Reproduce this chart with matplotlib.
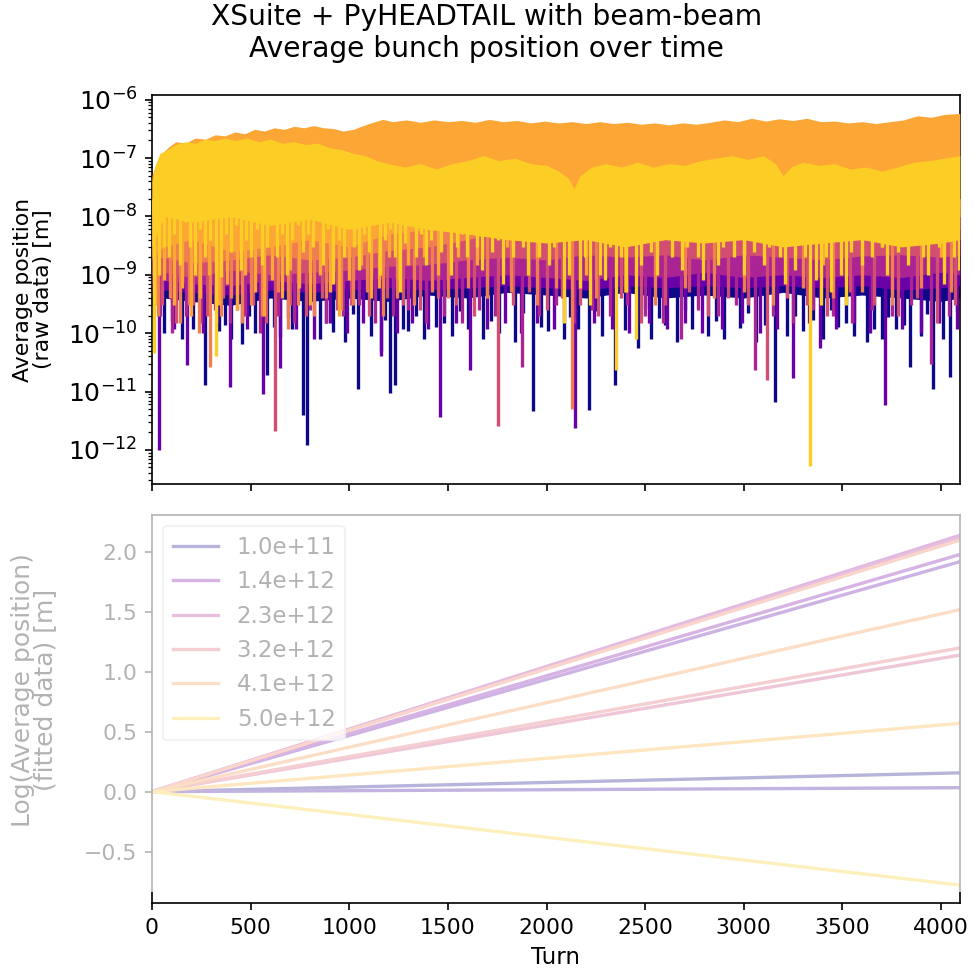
import numpy as np
import matplotlib
matplotlib.use("Agg")
import matplotlib.pyplot as plt
from matplotlib.patches import Rectangle

n_turns = 4096

# ---------------- top panel: raw average position ----------------
# coarse turn grid for the solid part ("body") of each trace
body_turn = [0, 60, 200, 400, 600, 800, 1000, 1200, 1400, 1600, 1800, 2000,
             2200, 2400, 2600, 2800, 3000, 3200, 3400, 3600, 3800, 4000, 4095]

# upper envelopes of the two dominant traces
orange_top_turn = [0, 20, 40, 80, 120, 170, 220, 270, 320, 370,
                   420, 470, 520, 570, 620, 670, 720, 770, 820, 870,
                   920, 970, 1020, 1070, 1120, 1170, 1220, 1290, 1360, 1430,
                   1500, 1570, 1640, 1710, 1780, 1850, 1920, 1990, 2060, 2130,
                   2200, 2270, 2340, 2410, 2480, 2550, 2620, 2690, 2760, 2830,
                   2900, 2970, 3040, 3110, 3180, 3250, 3320, 3390, 3460, 3530,
                   3600, 3670, 3740, 3810, 3880, 3950, 4020, 4095]
orange_top = [5e-8, 8e-8, 1.1e-7, 1.5e-7, 1.9e-7, 1.8e-7, 2.2e-7, 2.1e-7, 2.5e-7, 2.4e-7,
              2.8e-7, 2.6e-7, 3.1e-7, 2.9e-7, 3.3e-7, 3.1e-7, 3.5e-7, 3.3e-7, 3.6e-7, 3.3e-7,
              3.2e-7, 2.9e-7, 3.1e-7, 3.6e-7, 4.1e-7, 4.6e-7, 4.2e-7, 4.5e-7, 4.1e-7, 4.5e-7,
              4.2e-7, 4.4e-7, 4.1e-7, 4.6e-7, 4.2e-7, 4.4e-7, 4.0e-7, 4.3e-7, 4.0e-7, 4.2e-7,
              3.9e-7, 4.2e-7, 3.9e-7, 4.1e-7, 3.8e-7, 4.0e-7, 3.7e-7, 4.0e-7, 3.8e-7, 4.1e-7,
              4.5e-7, 4.2e-7, 4.8e-7, 4.3e-7, 4.7e-7, 4.4e-7, 4.8e-7, 4.2e-7, 4.3e-7, 4.0e-7,
              4.2e-7, 3.9e-7, 4.2e-7, 4.5e-7, 5.3e-7, 5.0e-7, 5.6e-7, 5.8e-7]

yellow_top_turn = [0, 20, 40, 80, 120, 170, 220, 270, 320, 370,
                   420, 480, 540, 600, 660, 720, 780, 840, 900, 960,
                   1020, 1080, 1140, 1200, 1280, 1360, 1440, 1520, 1600, 1680,
                   1760, 1840, 1920, 2000, 2060, 2110, 2140, 2170, 2230, 2300,
                   2380, 2460, 2540, 2620, 2700, 2780, 2860, 2940, 3020, 3100,
                   3160, 3200, 3240, 3300, 3380, 3460, 3540, 3620, 3700, 3780,
                   3860, 3940, 4020, 4095]
yellow_top = [4e-8, 8e-8, 1.2e-7, 1.4e-7, 1.7e-7, 1.9e-7, 1.8e-7, 2.1e-7, 2.0e-7, 2.2e-7,
              2.0e-7, 2.2e-7, 1.9e-7, 2.1e-7, 1.8e-7, 1.9e-7, 1.7e-7, 1.8e-7, 1.5e-7, 1.4e-7,
              1.2e-7, 1.1e-7, 9e-8, 8e-8, 7e-8, 8e-8, 6.5e-8, 8e-8, 9e-8, 1.1e-7,
              9e-8, 1.0e-7, 8e-8, 7.5e-8, 6e-8, 4.5e-8, 3e-8, 5e-8, 7e-8, 8e-8,
              7e-8, 8.5e-8, 7e-8, 8e-8, 7.5e-8, 9e-8, 1.0e-7, 1.1e-7, 9.5e-8, 1.1e-7,
              8e-8, 5e-8, 7e-8, 8.5e-8, 7.5e-8, 8e-8, 6.5e-8, 7e-8, 6e-8, 7e-8,
              8.5e-8, 9e-8, 1.0e-7, 1.1e-7]

# lower edge of the solid part of each trace (on body_turn)
navy_floor = [3e-10, 4e-10, 3.5e-10, 3e-10, 4e-10, 3.5e-10, 4e-10, 3.5e-10, 4.5e-10,
              4e-10, 5e-10, 4.5e-10, 4e-10, 5e-10, 4e-10, 4.5e-10, 4e-10, 5e-10, 4e-10,
              4.5e-10, 4e-10, 3.5e-10, 4e-10]
purple_floor = [5e-10, 5.5e-10, 5e-10, 4.5e-10, 5.5e-10, 5e-10, 5.5e-10, 6e-10, 5.5e-10,
                6e-10, 6.5e-10, 6e-10, 5.5e-10, 6.5e-10, 6e-10, 6.5e-10, 6e-10, 6.5e-10,
                6e-10, 6.5e-10, 5.5e-10, 6e-10, 6.5e-10]
magenta_floor = [7e-10, 8e-10, 7e-10, 6.5e-10, 8e-10, 7e-10, 8e-10, 9e-10, 8e-10, 9e-10,
                 1e-9, 9e-10, 8e-10, 1e-9, 9e-10, 1.1e-9, 9e-10, 1e-9, 9e-10, 1e-9,
                 9e-10, 1.1e-9, 1e-9]
pink_floor = [1e-9, 1.1e-9, 9e-10, 1.2e-9, 1e-9, 1.1e-9, 1.2e-9, 1.4e-9, 1.5e-9, 1.8e-9,
              2e-9, 1.8e-9, 2.2e-9, 2e-9, 2.2e-9, 1.8e-9, 2.2e-9, 2e-9, 1.8e-9, 2.1e-9,
              2.2e-9, 2e-9, 2.2e-9]
salmon_floor = [1.8e-9, 2e-9, 1.6e-9, 1.8e-9, 2.2e-9, 1.8e-9, 2e-9, 2.6e-9, 3e-9, 4e-9,
                6e-9, 7e-9, 6e-9, 7e-9, 6e-9, 7e-9, 6e-9, 7e-9, 6e-9, 7e-9, 6e-9, 7e-9,
                6e-9]
orange_floor = [2e-9, 3e-9, 4e-9, 2.5e-9, 3e-9, 4e-9, 3e-9, 5e-9, 6e-9, 8e-9, 1e-8,
                1.2e-8, 1e-8, 1.5e-8, 1.2e-8, 1.5e-8, 1.2e-8, 1.5e-8, 1.3e-8, 1.5e-8,
                1.2e-8, 1.5e-8, 1.5e-8]
yellow_floor = [3e-9, 1e-8, 8e-9, 1e-8, 7e-9, 9e-9, 6e-9, 8e-9, 6e-9, 5e-9, 4e-9, 3.5e-9,
                4e-9, 3e-9, 4e-9, 3.5e-9, 4e-9, 3e-9, 3.5e-9, 4e-9, 3e-9, 3.5e-9, 4e-9]

# downward spikes (turn, minimum) of each trace
navy_turn = [60, 150, 210, 269, 340, 400, 455, 520, 582, 650, 710, 766, 787, 850, 920,
             980, 1045, 1110, 1160, 1207, 1230, 1300, 1380, 1440, 1520, 1600, 1680, 1760,
             1840, 1932, 2010, 2090, 2160, 2216, 2280, 2347, 2400, 2463, 2530, 2600,
             2660, 2740, 2820, 2900, 2980, 3060, 3158, 3220, 3300, 3400, 3480, 3560,
             3624, 3700, 3770, 3843, 3900, 3960, 4010, 4045,
             100, 245, 370, 490, 620, 690, 880, 1020, 1180, 1270, 1340, 1480, 1560, 1720,
             1880, 1970, 2120, 2250, 2500, 2570, 2700, 2860, 3020, 3110, 3260, 3350, 3440,
             3520, 3660, 3730, 3810, 3930, 4080]
navy_min = [1e-10, 8e-11, 1.2e-10, 1.3e-11, 1.1e-10, 8e-11, 6.6e-11, 1e-10, 1.9e-11, 8.5e-11,
            1.2e-10, 4e-12, 1.2e-12, 8e-11, 1.05e-10, 7e-11, 1.1e-11, 9e-11, 5e-11, 9.5e-12,
            1.3e-11, 1.1e-10, 8e-11, 1.3e-10, 9e-11, 1.2e-10, 8e-11, 1e-10, 7e-11, 4.7e-12,
            1.1e-10, 8e-11, 1.2e-10, 4.8e-12, 9e-11, 1.3e-11, 1.15e-10, 5.6e-11, 8e-11, 1.4e-10,
            7e-11, 1.2e-10, 9e-11, 8e-11, 1.25e-10, 7e-11, 6.6e-12, 9e-11, 1.1e-10, 8e-11,
            1.3e-10, 9e-11, 7e-11, 8e-11, 1.2e-10, 2.6e-11, 9e-11, 1.1e-11, 8e-11, 1.8e-11,
            1.6e-10, 2.2e-10, 1.4e-10, 2e-10, 1.3e-10, 1.8e-10, 1.5e-10, 2.1e-10, 1.7e-10,
            1.2e-10, 2e-10, 1.5e-10, 2.4e-10, 1.6e-10, 2.2e-10, 1.3e-10, 1.9e-10, 2.4e-10,
            2.6e-10, 1.8e-10, 2.5e-10, 1.6e-10, 2.2e-10, 1.4e-10, 2e-10, 1.7e-10, 2.5e-10,
            1.5e-10, 1.2e-10, 1.9e-10, 1.4e-10, 2.1e-10, 2.4e-10]

purple_turn = [37, 110, 180, 260, 330, 395, 480, 563, 650, 730, 820, 900, 990, 1070, 1160,
               1240, 1320, 1400, 1460, 1540, 1612, 1700, 1790, 1870, 1950, 2040, 2145,
               2240, 2330, 2420, 2520, 2610, 2700, 2790, 2890, 2990, 3080, 3170, 3250,
               3330, 3385, 3470, 3560, 3640, 3716, 3800, 3900, 3990, 4080]
purple_min = [1e-12, 1.2e-10, 2.8e-11, 1e-10, 1.5e-10, 1.2e-11, 1.2e-10, 9e-12, 2.5e-11,
              1.2e-10, 8e-11, 1.5e-10, 1e-10, 1.5e-10, 4e-11, 1e-10, 1.5e-10, 1.2e-10,
              3.6e-12, 1.5e-10, 2.3e-11, 1.2e-10, 1.5e-10, 1e-10, 1.5e-10, 1.2e-10,
              2.4e-12, 1.5e-10, 1.2e-10, 1e-10, 1.5e-10, 1.2e-10, 1.5e-10, 1e-10, 1.2e-10,
              1.5e-10, 1e-10, 1.2e-10, 1.7e-11, 1.5e-10, 5.6e-11, 1.2e-10, 1.5e-10, 1e-10,
              5.8e-12, 1.2e-10, 1e-10, 1.5e-10, 1.2e-10]

magenta_turn = [40, 100, 170, 250, 320, 395, 470, 550, 640, 720, 800, 880, 970, 1050,
                1130, 1220, 1300, 1390, 1480, 1570, 1660, 1740, 1875, 1960, 2050, 2140,
                2230, 2320, 2410, 2500, 2590, 2680, 2770, 2870, 2960, 3057, 3150, 3250,
                3350, 3450, 3550, 3650, 3750, 3850, 3950, 4040]
magenta_min = [2e-10, 1e-10, 2e-10, 1.5e-10, 2.5e-10, 1.5e-10, 2e-10, 1e-10, 2e-10,
               1.5e-10, 2.5e-10, 1.5e-10, 2e-10, 3e-10, 1.5e-10, 2e-10, 2.5e-10, 1.5e-10,
               2e-10, 1.5e-10, 2.5e-10, 2e-10, 2.6e-11, 2e-10, 3e-10, 1.5e-10, 2.5e-10,
               2e-10, 3e-10, 2e-10, 1.5e-10, 8e-11, 2.5e-10, 2e-10, 3e-10, 2.3e-11, 2e-10,
               1.5e-10, 2.5e-10, 2e-10, 1.5e-10, 2.5e-10, 2e-10, 3e-10, 3e-11, 2e-10]

pink_turn = [50, 120, 210, 280, 360, 430, 510, 580, 623, 700, 780, 860, 940, 1010, 1100,
             1190, 1270, 1360, 1450, 1540, 1630, 1700, 1754, 1830, 1910, 2000, 2080, 2170,
             2260, 2380, 2480, 2600, 2720, 2820, 2920, 3020, 3117, 3220, 3320, 3420, 3540,
             3660, 3780, 3880, 3980, 4070]
pink_min = [3e-10, 1.5e-10, 3e-10, 2e-10, 4e-10, 2.5e-10, 3e-10, 1.5e-10, 2.1e-12, 3e-10,
            2e-10, 4e-10, 2.5e-10, 3e-10, 2e-10, 4e-10, 3e-10, 2.5e-10, 4e-10, 3e-10,
            2e-10, 4e-10, 2.6e-12, 3e-10, 5e-10, 2.5e-10, 4e-10, 3e-10, 2e-10, 4e-10,
            1.5e-10, 3e-10, 5e-10, 2e-10, 4e-10, 3e-10, 1.6e-11, 4e-10, 3e-10, 2e-10,
            5e-10, 3e-10, 2e-10, 4e-10, 1.5e-10, 3e-10]

salmon_turn = [30, 90, 140, 190, 240, 294, 350, 400, 455, 500, 560, 640, 690, 740, 820,
               880, 960, 1020, 1090, 1170, 1240, 1330, 1420, 1500, 1600, 1700, 1820, 1950,
               2050, 2128, 2250, 2400, 2550, 2700, 2850, 3000, 3150, 3300, 3450, 3600,
               3750, 3900, 4050]
salmon_min = [2e-10, 4e-10, 1.5e-10, 3e-10, 1e-10, 2.6e-11, 2e-10, 4e-10, 1.5e-10, 3e-10,
              2e-10, 5e-10, 1.2e-10, 3e-10, 2e-10, 4e-10, 2.5e-10, 3e-10, 5e-10, 2e-10,
              4e-10, 3e-10, 5e-10, 4e-10, 6e-10, 4e-10, 5e-10, 3e-10, 6e-10, 5e-12,
              4e-10, 5e-10, 3e-10, 6e-10, 4e-10, 5e-10, 3e-10, 6e-10, 4e-10, 5e-10,
              3e-10, 6e-10, 5e-10]

orange_turn = [15, 60, 110, 150, 200, 245, 290, 340, 380, 430, 470, 520, 570, 610, 660,
               700, 745, 800, 850, 900, 950, 1000, 1060, 1110, 1150, 1200, 1250, 1300,
               1380, 1450, 1550, 1650, 1800, 1950, 2200, 2400, 2700, 3000, 3400, 3700, 4000]
orange_min = [3e-10, 8e-10, 3e-10, 6e-10, 2e-10, 4e-10, 1e-9, 3e-10, 7e-10, 2.5e-10,
              1e-9, 5e-10, 2e-10, 8e-10, 4e-10, 1.2e-9, 6e-10, 3e-10, 1e-9, 5e-10, 2e-10,
              8e-10, 1.5e-9, 4e-10, 6e-10, 2e-9, 8e-10, 1.5e-9, 2e-9, 1e-9, 2e-9, 1.5e-9,
              3e-9, 2e-9, 1e-9, 2e-9, 3e-9, 2e-9, 1.5e-9, 3e-9, 2e-9]

# yellow trace dips, one every 26 turns starting at turn 10
yellow_min = [4.5e-11, 1e-9, 3e-9, 2e-9, 5e-9, 1.5e-9, 8e-9, 3e-9, 1e-9, 6e-9,
              2e-9, 4e-9, 4e-11, 9e-10, 5e-9, 2.5e-9, 7e-9, 1.2e-9, 4e-9, 2e-9,
              6e-9, 1.5e-9, 3e-9, 8e-9, 2e-9, 5e-9, 1e-9, 4e-9, 7e-9, 2.5e-9,
              5e-9, 3e-9, 9e-9, 1.5e-9, 6e-9, 7e-10, 4e-9, 2e-9, 8e-9, 3e-9,
              1.2e-9, 5e-9, 2.5e-9, 7e-9, 1e-9, 4e-9, 6e-9, 2e-9, 5e-10, 3.5e-9,
              8e-9, 2e-9, 5e-9, 1.5e-9, 4e-9, 7e-9, 2.5e-9, 6e-9, 1e-9, 3e-9,
              5e-9, 2e-9, 8e-9, 3e-9, 1.2e-9, 6e-9, 2.5e-9, 4e-9, 7e-10, 5e-9,
              2e-9, 6e-9, 3e-9, 1e-9, 4.5e-9, 2e-9, 7e-9, 1.5e-9, 3e-9, 5e-9,
              1.5e-10, 1e-9, 4e-9, 6e-10, 2e-9, 3e-10, 5e-9, 1e-9, 8e-10, 3e-9,
              2.3e-11, 2e-9, 5e-10, 4e-9, 8e-11, 1.5e-9, 6e-9, 2.5e-9, 1e-9, 4e-9,
              7e-9, 2e-9, 5e-9, 1.2e-9, 3e-9, 6e-9, 2e-9, 8e-10, 4e-9, 5e-9,
              1.5e-9, 3e-9, 7e-9, 2e-9, 5e-9, 1e-9, 4e-9, 2.5e-9, 6e-9, 1.5e-9,
              3e-9, 5e-9, 2e-9, 7e-10, 4e-9, 1.2e-9, 6e-9, 2e-9, 5.4e-13, 8e-10,
              3e-10, 2e-9, 5e-10, 4e-9, 1e-9, 3e-10, 2.5e-9, 6e-9, 1.5e-9, 4e-9,
              2e-9, 7e-9, 3e-9, 1e-9, 5e-9, 2.5e-9, 8e-9, 1.5e-9, 4e-9, 6e-9,
              2e-9, 1e-9, 5e-9, 3e-9, 7e-10, 4e-9, 2e-9, 1.2e-9]
yellow_turn = np.arange(10, n_turns, 26)[:len(yellow_min)]

# ---------------- bottom panel: fitted growth ----------------
intensities = [1.0e11, 5.5e11, 9.9e11, 1.4e12, 1.9e12, 2.3e12,
               2.8e12, 3.2e12, 3.7e12, 4.1e12, 4.6e12, 5.0e12]
fit_end = [0.157, 0.033, 1.92, 1.98, 2.14, 2.12, 1.14, 1.20, 2.10, 1.52, 0.57, -0.78]
legend_shown = [0, 3, 5, 7, 9, 11]

fit_colors = plt.cm.plasma(np.linspace(0, 0.9, len(intensities)))
top_colors = plt.cm.plasma([0.0, 0.2, 0.38, 0.53, 0.68, 0.8, 0.9])

plt.rcParams["font.family"] = "DejaVu Sans"
fig = plt.figure(figsize=(973 / 150, 971 / 150), dpi=150)
ax1 = fig.add_axes([0.1562, 0.5015, 0.8304, 0.4006])
ax2 = fig.add_axes([0.1562, 0.0700, 0.8304, 0.3996], sharex=ax1)

hidden_top = 2e-8
lower = [(navy_floor, navy_turn, navy_min),
         (purple_floor, purple_turn, purple_min),
         (magenta_floor, magenta_turn, magenta_min),
         (pink_floor, pink_turn, pink_min),
         (salmon_floor, salmon_turn, salmon_min)]
# each trace gets its own layer so later (higher intensity) traces cover earlier ones
for k, (c, (floor, t, m)) in enumerate(zip(top_colors[:5], lower)):
    ax1.fill_between(body_turn, floor, hidden_top, color=c, lw=0, zorder=2 + k)
    ax1.vlines(t, m, hidden_top, color=c, lw=1.6, zorder=2 + k)

c_or, c_ye = top_colors[5], top_colors[6]
ax1.fill_between(body_turn, orange_floor, hidden_top, color=c_or, lw=0, zorder=7)
ax1.fill_between(orange_top_turn, 1e-8, orange_top, color=c_or, lw=0, zorder=7)
ax1.vlines(orange_turn, orange_min, hidden_top, color=c_or, lw=1.6, zorder=7)

ax1.fill_between(body_turn, yellow_floor, hidden_top, color=c_ye, lw=0, zorder=8)
ax1.fill_between(yellow_top_turn, 1e-8, yellow_top, color=c_ye, lw=0, zorder=8)
ax1.vlines(yellow_turn, yellow_min, hidden_top, color=c_ye, lw=1.6, zorder=8)

ax1.set_yscale("log")
ax1.set_ylim(2.6e-13, 1.2e-6)
ax1.set_xlim(0, n_turns)
ax1.set_ylabel("Average position\n(raw data) [m]", fontsize=10.5, linespacing=1.0)
ax1.yaxis.set_label_coords(-0.122, 0.5)
ax1.tick_params(labelbottom=False, labelsize=12)

for i, end in enumerate(fit_end):
    lab = f"{intensities[i]:.1e}" if i in legend_shown else "_nolegend_"
    ax2.plot([0, n_turns - 1], [0, end], color=fit_colors[i], lw=1.6, label=lab)

ax2.set_ylim(-0.93, 2.31)
ax2.set_yticks([-0.5, 0.0, 0.5, 1.0, 1.5, 2.0])
ax2.set_xticks(range(0, 4001, 500))
ax2.set_xlabel("Turn", fontsize=11)
ax2.set_ylabel("Log(Average position)\n(fitted data) [m]", fontsize=12, linespacing=0.85)
ax2.yaxis.set_label_coords(-0.118, 0.55)
ax2.tick_params(labelsize=10.5)
ax2.legend(loc="upper left", fontsize=11)

fig.suptitle("XSuite + PyHEADTAIL with beam-beam\nAverage bunch position over time",
             fontsize=13.5, y=0.966, va="center")

# washed-out look of the lower panel
fig.add_artist(Rectangle((0, 0.0814), 1, 0.4036, transform=fig.transFigure,
                         facecolor="white", edgecolor="none", alpha=0.7, zorder=10))

fig.savefig("out.png", dpi=150)
